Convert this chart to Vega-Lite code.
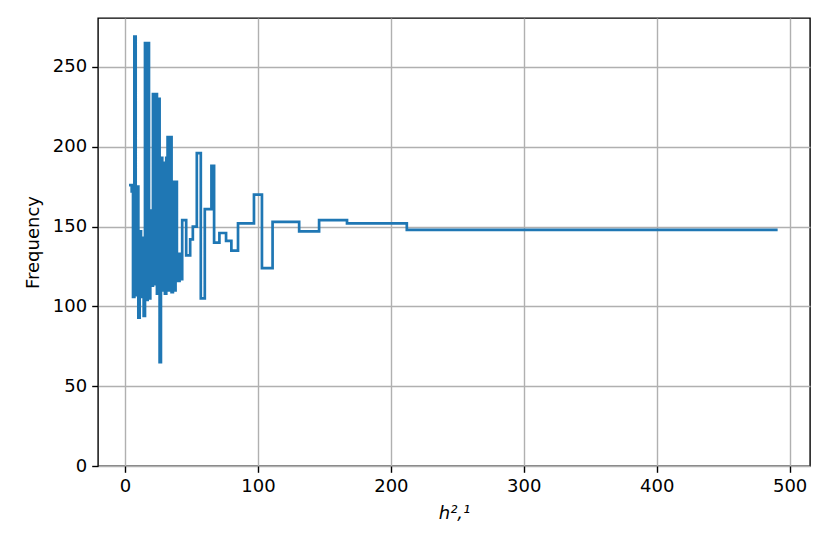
{
  "$schema": "https://vega.github.io/schema/vega-lite/v6.json",
  "width": 712,
  "height": 448,
  "autosize": "none",
  "padding": {"left": 98, "top": 18, "right": 20, "bottom": 88},
  "background": "white",
  "config": {
    "font": "DejaVu Sans",
    "view": {"stroke": "black", "strokeWidth": 1.4},
    "axis": {
      "domain": false,
      "grid": true,
      "gridColor": "#b0b0b0",
      "gridWidth": 1.4,
      "tickColor": "black",
      "tickWidth": 1.4,
      "tickSize": 6.3,
      "labelPadding": 5,
      "labelFontSize": 18,
      "labelColor": "black",
      "titleFontSize": 18,
      "titleFontWeight": "normal",
      "titleColor": "black"
    }
  },
  "data": {
    "values": [
      {"h": 3, "freq": 176}, {"h": 5, "freq": 172}, {"h": 6, "freq": 106}, {"h": 7, "freq": 269},
      {"h": 8, "freq": 107}, {"h": 9, "freq": 175}, {"h": 10, "freq": 93}, {"h": 11, "freq": 147},
      {"h": 12, "freq": 106}, {"h": 13, "freq": 143}, {"h": 14, "freq": 94}, {"h": 15, "freq": 265},
      {"h": 16, "freq": 104}, {"h": 17, "freq": 265}, {"h": 18, "freq": 105}, {"h": 19, "freq": 160},
      {"h": 20, "freq": 113}, {"h": 21, "freq": 233}, {"h": 22, "freq": 114}, {"h": 23, "freq": 233},
      {"h": 24, "freq": 108}, {"h": 25, "freq": 230}, {"h": 26, "freq": 65}, {"h": 27, "freq": 193},
      {"h": 28, "freq": 110}, {"h": 29, "freq": 190}, {"h": 30, "freq": 108}, {"h": 31, "freq": 193},
      {"h": 32, "freq": 206}, {"h": 33, "freq": 110}, {"h": 34, "freq": 206}, {"h": 35, "freq": 109},
      {"h": 36, "freq": 178}, {"h": 37, "freq": 110}, {"h": 38, "freq": 178}, {"h": 39, "freq": 133},
      {"h": 40, "freq": 116}, {"h": 41, "freq": 133}, {"h": 42, "freq": 117}, {"h": 43, "freq": 154},
      {"h": 46, "freq": 132}, {"h": 49, "freq": 142}, {"h": 51, "freq": 150}, {"h": 54, "freq": 196},
      {"h": 57, "freq": 105}, {"h": 60, "freq": 161}, {"h": 65, "freq": 188}, {"h": 67, "freq": 140},
      {"h": 71, "freq": 146}, {"h": 76, "freq": 141}, {"h": 80, "freq": 135}, {"h": 85, "freq": 152},
      {"h": 97, "freq": 170}, {"h": 103, "freq": 124}, {"h": 111, "freq": 153}, {"h": 131, "freq": 147},
      {"h": 146, "freq": 154}, {"h": 167, "freq": 152}, {"h": 212, "freq": 148}, {"h": 491, "freq": 148}
    ]
  },
  "mark": {"type": "line", "interpolate": "step-after", "color": "#1f77b4", "strokeWidth": 2.7, "clip": true},
  "encoding": {
    "x": {
      "field": "h", "type": "quantitative",
      "scale": {"domain": [-20.35, 515.35], "nice": false, "zero": false},
      "axis": {"values": [0, 100, 200, 300, 400, 500], "title": "h²,¹", "titleFontStyle": "italic", "titlePadding": 9}
    },
    "y": {
      "field": "freq", "type": "quantitative",
      "scale": {"domain": [0, 280.7], "nice": false},
      "axis": {"values": [0, 50, 100, 150, 200, 250], "title": "Frequency", "titlePadding": 10}
    }
  }
}
